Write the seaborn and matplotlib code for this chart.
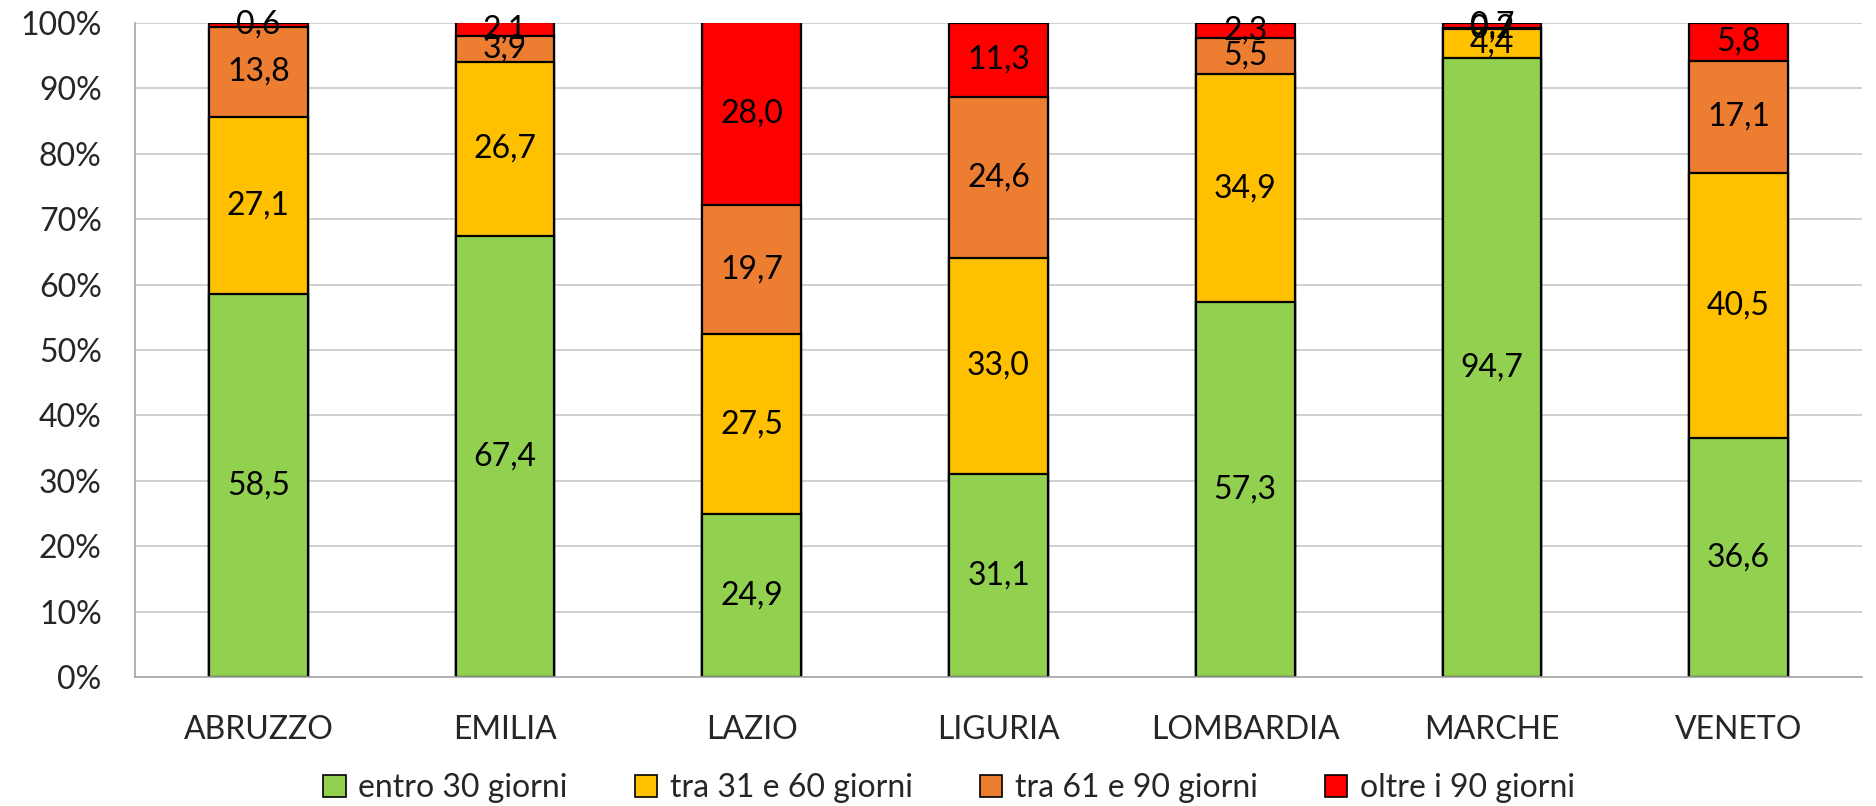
import numpy as np
import pandas as pd
import matplotlib
matplotlib.use("Agg")
import matplotlib.pyplot as plt
import seaborn as sns
from matplotlib.patches import Patch

regions = ["ABRUZZO", "EMILIA", "LAZIO", "LIGURIA", "LOMBARDIA", "MARCHE", "VENETO"]
series_names = ["entro 30 giorni", "tra 31 e 60 giorni", "tra 61 e 90 giorni", "oltre i 90 giorni"]
entro30 = [58.5, 67.4, 24.9, 31.1, 57.3, 94.7, 36.6]
tra31_60 = [27.1, 26.7, 27.5, 33.0, 34.9, 4.4, 40.5]
tra61_90 = [13.8, 3.9, 19.7, 24.6, 5.5, 0.2, 17.1]
oltre90 = [0.6, 2.1, 28.0, 11.3, 2.3, 0.7, 5.8]
colors = ["#92D050", "#FFC000", "#ED7D31", "#FF0000"]
yticks = [0, 10, 20, 30, 40, 50, 60, 70, 80, 90, 100]

sns.set_theme(style="white")
plt.rcParams["font.family"] = ["Lato", "DejaVu Sans"]

layers = [entro30, tra31_60, tra61_90, oltre90]
cum = np.cumsum(np.array(layers), axis=0)

fig = plt.figure(figsize=(18.76, 8.06), dpi=100)
ax = fig.add_axes([0.072, 0.16, 0.9205, 0.8115])

# draw cumulative bars from top layer down so each layer overlaps
for i in range(len(layers) - 1, -1, -1):
    df = pd.DataFrame({"region": regions, "value": cum[i]})
    sns.barplot(data=df, x="region", y="value", color=colors[i], ax=ax,
                width=0.40, edgecolor="black", linewidth=1.6, saturation=1)

FS = 23
# labels
for i, vals in enumerate(layers):
    for j, v in enumerate(vals):
        yc = cum[i][j] - v / 2
        ax.text(j, yc, f"{v:.1f}".replace(".", ","), ha="center", va="center",
                fontsize=FS, color="black")

ax.set_ylim(0, 100)
ax.set_xlim(-0.5, len(regions) - 0.5)
ax.set_yticks(yticks)
ax.set_yticklabels([f"{t}%" for t in yticks], fontsize=FS)
ax.tick_params(axis="y", length=0, pad=24)
ax.tick_params(axis="x", length=0, pad=27, labelsize=FS)
ax.set_xlabel("")
ax.set_ylabel("")
ax.yaxis.grid(True, color="#D0D0D0", linewidth=1.4)
ax.set_axisbelow(True)
for s in ["top", "right"]:
    ax.spines[s].set_visible(False)
for s in ["left", "bottom"]:
    ax.spines[s].set_color("#A6A6A6")
    ax.spines[s].set_linewidth(1.2)

handles = [Patch(facecolor=c, edgecolor="black", linewidth=1.2) for c in colors]
fig.legend(handles, series_names, loc="center", bbox_to_anchor=(0.506, 0.022),
           ncol=4, frameon=False, fontsize=FS, handlelength=0.7, handleheight=0.7,
           handletextpad=0.4, columnspacing=2.1)

fig.savefig("out.png", dpi=100)
